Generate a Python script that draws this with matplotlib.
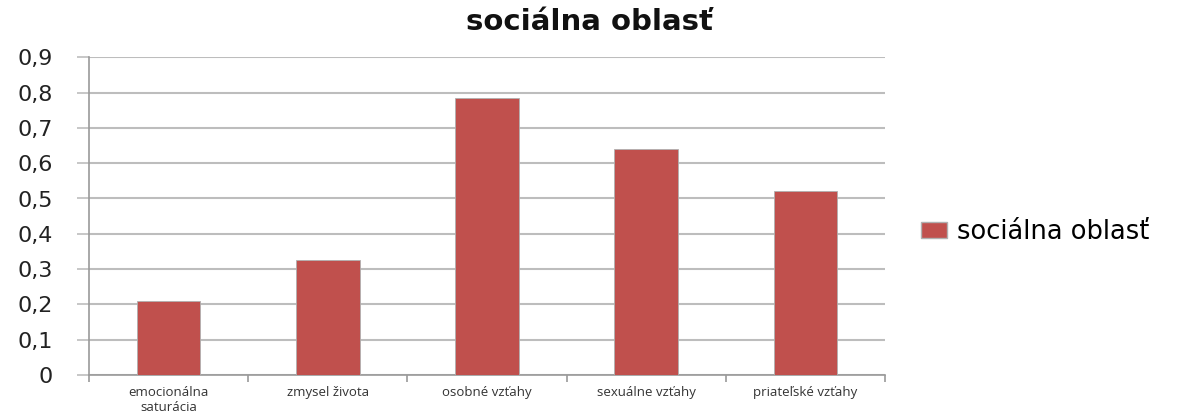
import matplotlib
matplotlib.use("Agg")
import matplotlib.pyplot as plt
from matplotlib.ticker import FuncFormatter, FixedLocator
from matplotlib.patches import Patch

categories = ["emocionálna\nsaturácia", "zmysel života", "osobné vzťahy", "sexuálne vzťahy", "priateľské vzťahy"]
values = [0.21, 0.326, 0.784, 0.639, 0.521]
series_name = "sociálna oblasť"
yticks = [0, 0.1, 0.2, 0.3, 0.4, 0.5, 0.6, 0.7, 0.8, 0.9]

plt.rcParams['font.family'] = ['DejaVu Sans']

fig = plt.figure(figsize=(11.84, 4.19), dpi=100)
ax = fig.add_axes([89/1184, 1-375/419, (885-89)/1184, (375-57.3)/419])

x = list(range(len(categories)))
ax.bar(x, values, width=0.4, color="#C0504D", edgecolor="#B0B0B0", linewidth=0.6, zorder=3)

ax.set_xlim(-0.5, len(categories)-0.5)
ax.set_ylim(0, 0.9)
ax.set_yticks(yticks)
ax.yaxis.set_major_formatter(FuncFormatter(lambda v, p: ("%g" % round(v, 1)).replace(".", ",")))
ax.grid(axis="y", color="#BDBDBD", linewidth=1.5, zorder=0)
ax.tick_params(axis="y", length=9, color="#BDBDBD", width=1.2, labelsize=16, pad=17, labelcolor="#222222")
ax.set_xticks(x)
ax.set_xticklabels(categories, fontsize=9.5, color="#333333", linespacing=1.2, family=['Open Sans', 'DejaVu Sans'])
ax.xaxis.set_minor_locator(FixedLocator([i - 0.5 for i in range(len(categories)+1)]))
ax.tick_params(axis="x", which="major", length=0, pad=8)
ax.tick_params(axis="x", which="minor", length=5, color="#9A9A9A", width=1.2)

for s in ["top", "right"]:
    ax.spines[s].set_visible(False)
ax.spines["left"].set_color("#9A9A9A")
ax.spines["left"].set_linewidth(1.2)
ax.spines["bottom"].set_color("#9A9A9A")
ax.spines["bottom"].set_linewidth(1.2)

fig.text(0.498, 1-22/419, series_name, ha="center", va="center", fontsize=21, fontweight="bold", color="#111111")

fig.legend(handles=[Patch(facecolor="#C0504D", edgecolor="#B0B0B0", label=series_name)],
           loc="center left", bbox_to_anchor=(898/1184, 1-232/419), frameon=False,
           fontsize=18.5, handlelength=1.0, handleheight=0.6, handletextpad=0.4)

fig.savefig("out.png", dpi=100)
